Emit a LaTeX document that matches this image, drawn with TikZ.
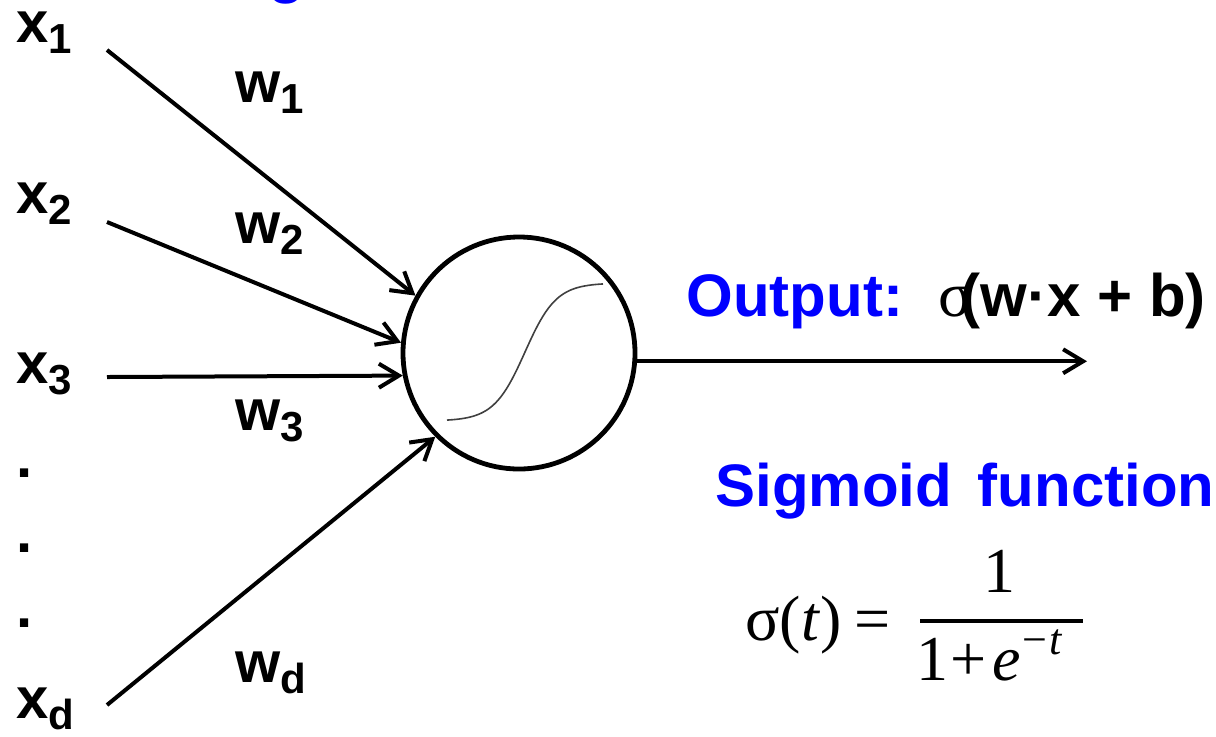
\documentclass[tikz,border=0pt]{standalone}
\usepackage{fontspec}
\setmainfont{Liberation Sans}
\newfontfamily\timesfont{Liberation Serif}
\usepackage{xcolor}
\definecolor{labelblue}{HTML}{0000FF}
\definecolor{curvegray}{HTML}{404040}
\usetikzlibrary{arrows.meta}
\newcommand{\lowsub}[1]{\raisebox{-5.5pt}{\fontsize{21}{21}\selectfont #1}}
\newcommand{\highsup}[1]{\raisebox{13pt}{\fontsize{22}{22}\selectfont #1}}

\begin{document}
\begin{tikzpicture}[x=0.5pt,y=-0.5pt,
  point/.style={coordinate},
  sym/.style={inner sep=0pt, anchor=base west, font=\bfseries\fontsize{29}{34}\selectfont},
  bluetxt/.style={inner sep=0pt, anchor=base west, text=labelblue, font=\bfseries\fontsize{30}{36}\selectfont},
  formula/.style={inner sep=0pt, anchor=base west, font=\timesfont\fontsize{32}{38}\selectfont},
  neuron/.style={draw, circle, line width=2.4pt, minimum size=116pt, inner sep=0pt},
  input/.style={line width=2pt, -{Straight Barb[length=10pt,width=12pt]}}]
\useasboundingbox (0,0) rectangle (1216,736);
% neuron with sigmoid sketch
\node[neuron] (n) at (519,353) {};
\draw[curvegray, line width=0.8pt] plot[domain=-5:5, samples=61] ({525+15.6*\x},{352-69*(2/(1+exp(-\x))-1)});
% inputs
\node[sym] (x1) at (16,42)  {x\lowsub{1}};
\node[sym] (x2) at (16,213) {x\lowsub{2}};
\node[sym] (x3) at (16,383) {x\lowsub{3}};
\node[sym] (d1) at (16,477) {.};
\node[sym] (d2) at (16,552) {.};
\node[sym] (d3) at (16,627) {.};
\node[sym] (xd) at (16,718) {x\lowsub{d}};
\node[point] (s1) at (107,50)  {};
\node[point] (s2) at (107,222) {};
\node[point] (s3) at (107,377) {};
\node[point] (sd) at (107,705) {};
\draw[input] (s1) -- (n.151);
\draw[input] (s2) -- (n.175);
\draw[input] (s3) -- (n.191);
\draw[input] (sd) -- (n.225);
% weights
\node[sym] (w1) at (235,102) {w\lowsub{1}};
\node[sym] (w2) at (235,243) {w\lowsub{2}};
\node[sym] (w3) at (235,430) {w\lowsub{3}};
\node[sym] (wd) at (235,682) {w\lowsub{d}};
% output
\node[point] (oe) at (1087,362) {};
\draw[input] (n.-4) -- (n.-4 -| oe);
\node[bluetxt] (out) at (686,316) {Output:};
\node[bluetxt, text=black] (outf) at (938,316) {{\timesfont\mdseries\fontsize{32}{38}\selectfont σ}\kern-6pt(w·x + b)};
\node[bluetxt] (tg) at (268,-8.5) {g};
% sigmoid formula
\node[bluetxt] (sig) at (715,506) {Sigmoid\hspace{0.15em} function};
\node[formula] (sl) at (745,640) {σ(\textit{t})\hspace{0.2em}=};
\node[formula, anchor=base] (num) at (999,592) {1};
\coordinate (fl) at (920,621);
\coordinate (fr) at (1083,621);
\draw[line width=1.6pt] (fl) -- (fr);
\node[formula] (den) at (916,680) {1\kern1pt+\kern3pt\textit{e}\kern1pt\highsup{−\kern1pt\textit{t}}};
\end{tikzpicture}
\end{document}
